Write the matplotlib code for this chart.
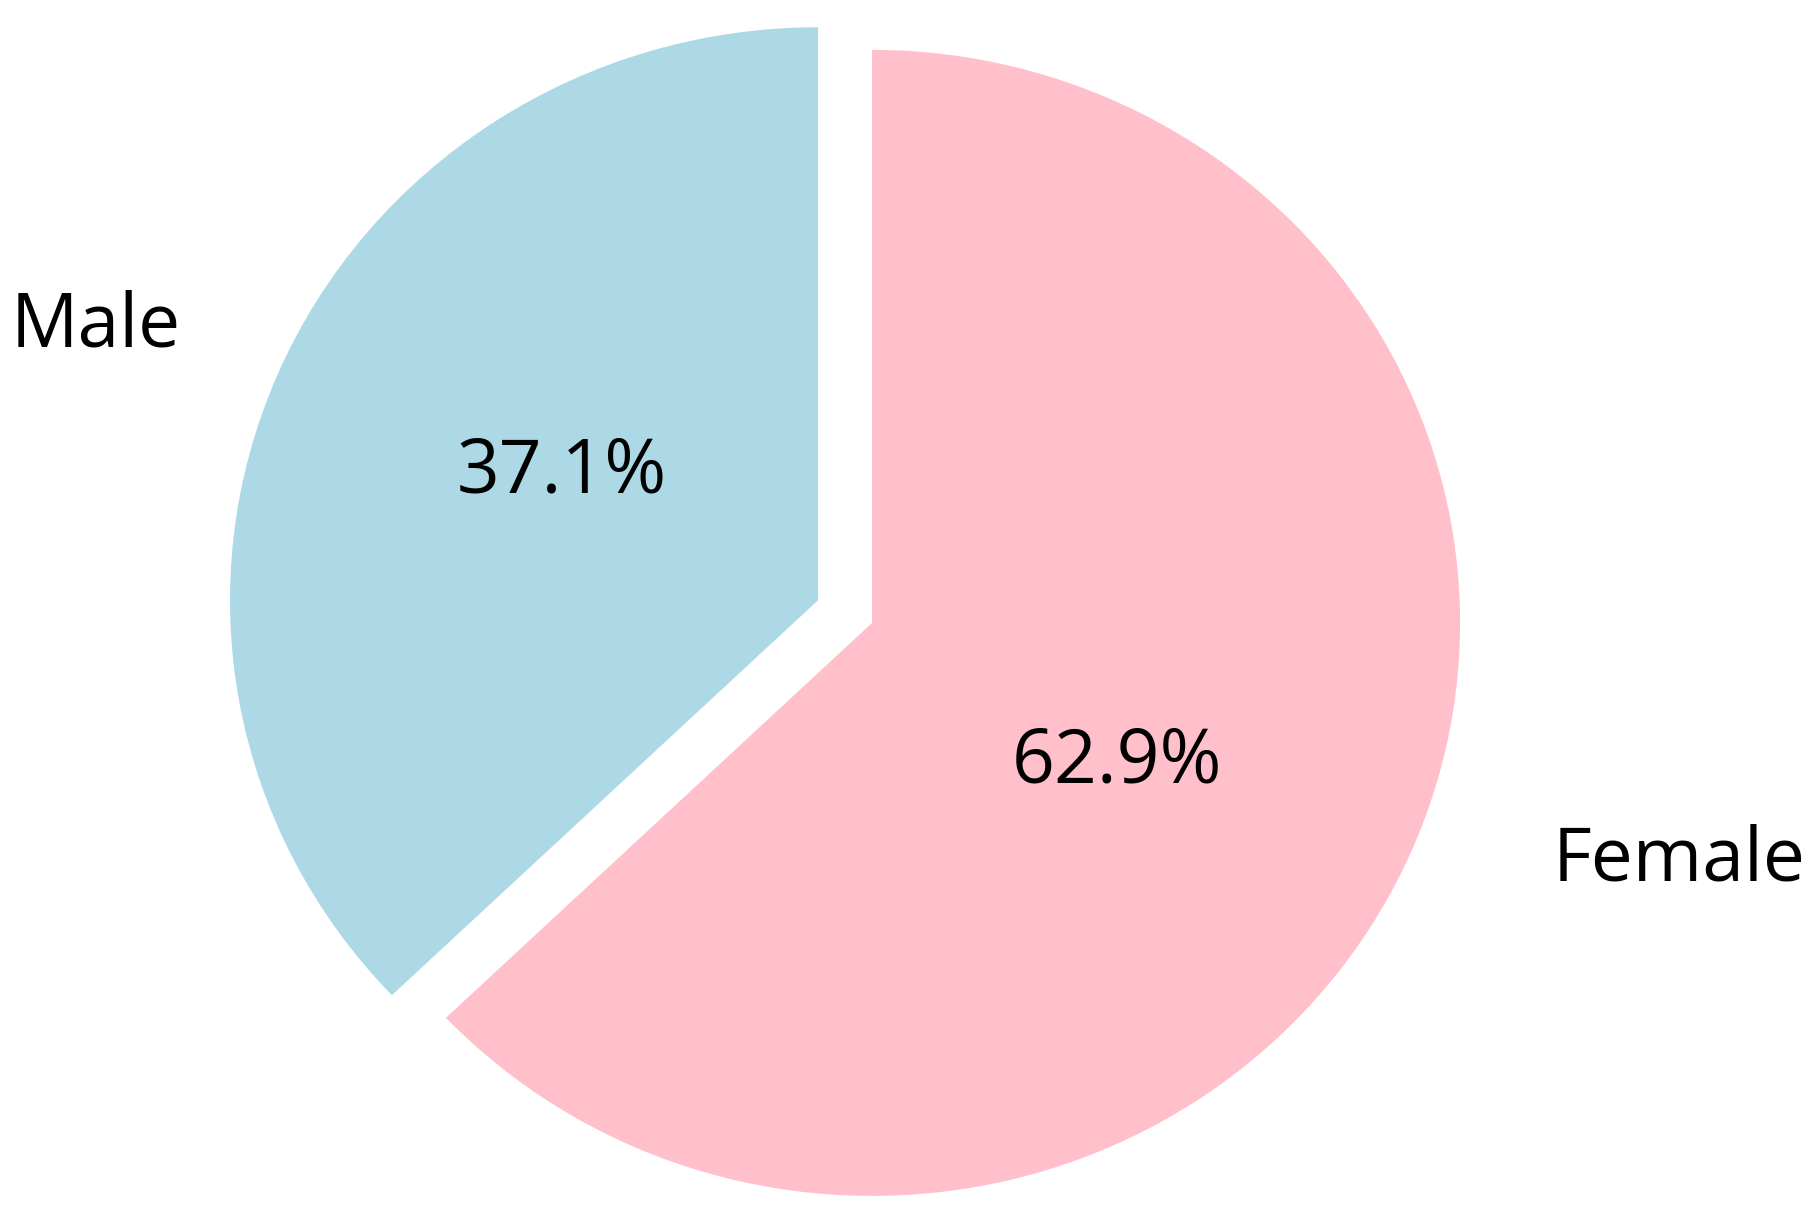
"""
plot.py - gender split pie chart
"""

import numpy as np
import matplotlib.pyplot as plt

plt.rcParams['font.family'] = ['Open Sans', 'DejaVu Sans']

labels = ["Male", "Female"]
shares = [37.1, 62.9]
colors = ["lightblue", "pink"]
explode = [0.1, 0.0]

# small nudges so the text sits where it does in the original
label_dist = [1.19, 1.225]
label_turn = [-1.2, 4.2]
pct_dist = [0.496, 0.475]
pct_turn = [-5.4, -5.6]


def place(txt, wedge, dist, turn):
    mid = np.deg2rad((wedge.theta1 + wedge.theta2) / 2 + turn)
    cx, cy = wedge.center
    r = wedge.r
    txt.set_position((cx + dist * r * np.cos(mid), cy + dist * r * np.sin(mid)))
    txt.set_verticalalignment('center_baseline')


def main():
    fig = plt.figure(figsize=(18.1, 12.2), dpi=100)
    ax = fig.add_axes([0, 0, 1, 1])

    wedges, texts, autotexts = ax.pie(
        shares,
        labels=labels,
        colors=colors,
        explode=explode,
        autopct='%1.1f%%',
        startangle=90,
        pctdistance=0.5,
        labeldistance=1.2,
        textprops={'fontsize': 54},
    )

    for w, t, at, ld, lt, pd, pt in zip(wedges, texts, autotexts,
                                        label_dist, label_turn, pct_dist, pct_turn):
        place(t, w, ld, lt)
        place(at, w, pd, pt)

    # the original is a touch wider than tall
    ax.set_aspect('auto')
    ax.set_xlim(-1.483, 1.595)
    ax.set_ylim(-1.042, 1.087)
    ax.axis('off')

    fig.savefig("out.png", dpi=100)
    plt.close(fig)


if __name__ == "__main__":
    main()
